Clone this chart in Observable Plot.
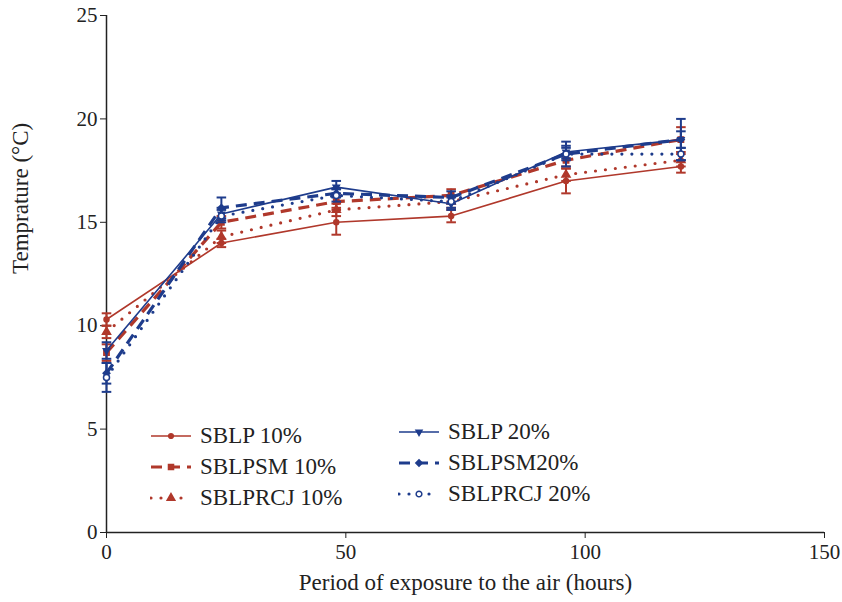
<!DOCTYPE html>
<html><head><meta charset="utf-8">
<script src="https://cdn.jsdelivr.net/npm/d3@7"></script>
<script src="https://cdn.jsdelivr.net/npm/@observablehq/plot@0.6"></script>
<style>
body{margin:0;background:#fff;font-family:"Liberation Serif",serif;}
#wrap{position:relative;width:842px;height:602px;}
#legend{position:absolute;left:0;top:0;width:842px;height:602px;pointer-events:none;font-family:"Liberation Serif",serif;font-size:23px;color:#222;}
.item{position:absolute;display:flex;align-items:center;height:26px;}
.item svg{margin-right:8px;}
</style></head>
<body><div id="wrap"><div id="chart"></div><div id="legend"></div></div>
<script>
const hours = [0, 24, 48, 72, 96, 120];
const seriesNames = ["SBLP 10%", "SBLPSM 10%", "SBLPRCJ 10%", "SBLP 20%", "SBLPSM20%", "SBLPRCJ 20%"];
const sblp10 = [10.3, 14.0, 15.0, 15.3, 17.0, 17.7];
const sblpsm10 = [8.7, 15.0, 16.0, 16.3, 18.0, 19.0];
const sblprcj10 = [9.7, 14.3, 15.6, 16.0, 17.3, 18.0];
const sblp20 = [8.8, 15.4, 16.7, 15.9, 18.4, 19.0];
const sblpsm20 = [7.7, 15.7, 16.4, 16.2, 18.3, 19.0];
const sblprcj20 = [7.5, 15.3, 16.3, 16.0, 18.3, 18.3];
const err_sblp10 = [0.3, 0.2, 0.6, 0.3, 0.6, 0.3];
const err_sblpsm10 = [0.4, 0.3, 0.3, 0.3, 0.3, 0.6];
const err_sblprcj10 = [0.3, 0.3, 0.3, 0.3, 0.3, 0.3];
const err_sblp20 = [0.4, 0.3, 0.3, 0.3, 0.3, 0.4];
const err_sblpsm20 = [0.5, 0.5, 0.2, 0.3, 0.6, 1.0];
const err_sblprcj20 = [0.7, 0.3, 0.3, 0.3, 0.3, 0.3];
const xTicks = [0, 50, 100, 150];
const yTicks = [0, 5, 10, 15, 20, 25];

const RED = "#B0382B", BLUE = "#1E3C8C";
const styles = [
  {color: RED, width: 1.6, dash: null, cap: "butt", symbol: "circle", fill: RED, r: 2.5},
  {color: RED, width: 3.2, dash: "11,7", cap: "butt", symbol: "square", fill: RED, r: 3},
  {color: RED, width: 3.2, dash: "0,10", cap: "round", symbol: "triangle", fill: RED, r: 3},
  {color: BLUE, width: 1.6, dash: null, cap: "butt", symbol: d3.symbolTriangle2, fill: BLUE, r: 3, rotate: 180},
  {color: BLUE, width: 3.2, dash: "11,7", cap: "butt", symbol: "diamond2", fill: BLUE, r: 3},
  {color: BLUE, width: 3.2, dash: "0,10", cap: "round", symbol: "circle", fill: "white", r: 3}
];
const vals = [sblp10, sblpsm10, sblprcj10, sblp20, sblpsm20, sblprcj20];
const errs = [err_sblp10, err_sblpsm10, err_sblprcj10, err_sblp20, err_sblpsm20, err_sblprcj20];

const marks = [];
seriesNames.forEach((name, i) => {
  const data = hours.map((h, j) => ({x: h, y: vals[i][j], e: errs[i][j]}));
  const s = styles[i];
  marks.push(Plot.ruleX(data, {x: "x", y1: d => d.y - d.e, y2: d => d.y + d.e, stroke: s.color, strokeWidth: 2}));
  marks.push(Plot.link(data, {x1: d => d.x - 1, x2: d => d.x + 1, y1: d => d.y + d.e, y2: d => d.y + d.e, stroke: s.color, strokeWidth: 2}));
  marks.push(Plot.link(data, {x1: d => d.x - 1, x2: d => d.x + 1, y1: d => d.y - d.e, y2: d => d.y - d.e, stroke: s.color, strokeWidth: 2}));
  marks.push(Plot.line(data, {x: "x", y: "y", stroke: s.color, strokeWidth: s.width, strokeDasharray: s.dash, strokeLinecap: s.cap}));
  marks.push(Plot.dot(data, {x: "x", y: "y", symbol: () => s.symbol, r: s.r, fill: s.fill, stroke: s.color, strokeWidth: 1.5, rotate: s.rotate || 0}));
});

const chart = Plot.plot({
  width: 842, height: 602,
  marginLeft: 106, marginRight: 18, marginTop: 15, marginBottom: 70,
  style: {fontFamily: "Liberation Serif, serif", fontSize: "20px", color: "#222", background: "white"},
  x: {domain: [0, 150], ticks: xTicks, label: null},
  y: {domain: [0, 25], ticks: yTicks, label: null},
  symbol: {type: "identity"},
  marks: [
    Plot.ruleY([0], {stroke: "#222", strokeWidth: 1.5}),
    Plot.ruleX([0], {stroke: "#222", strokeWidth: 1.5}),
    Plot.axisX({ticks: xTicks, tickSize: 6, tickPadding: 6, stroke: "#222", fontSize: 21}),
    Plot.axisY({ticks: yTicks, tickSize: 6, tickPadding: 3, stroke: "#222", fontSize: 21}),
    Plot.text(["Period of exposure to the air (hours)"], {frameAnchor: "bottom", dy: 57, fontSize: 23, fill: "#222"}),
    Plot.text(["Temprature (°C)"], {frameAnchor: "left", dx: -86, rotate: -90, fontSize: 23, fill: "#222"}),
    ...marks
  ]
});
document.getElementById("chart").appendChild(chart);

// legend
const legendPos = [[150, 423], [150, 454], [150, 485], [398, 419], [398, 450], [398, 481]];
const leg = document.getElementById("legend");
seriesNames.forEach((name, i) => {
  const s = styles[i];
  const div = document.createElement("div");
  div.className = "item";
  div.style.left = legendPos[i][0] + "px";
  div.style.top = legendPos[i][1] + "px";
  const svg = d3.create("svg").attr("width", 42).attr("height", 20);
  svg.append("line").attr("x1", 1).attr("x2", 41).attr("y1", 10).attr("y2", 10)
    .attr("stroke", s.color).attr("stroke-width", s.width)
    .attr("stroke-dasharray", s.dash).attr("stroke-linecap", s.cap);
  const sym = typeof s.symbol === "string" ? ({circle: d3.symbolCircle, square: d3.symbolSquare, triangle: d3.symbolTriangle, diamond2: d3.symbolDiamond2})[s.symbol] : s.symbol;
  svg.append("path").attr("d", d3.symbol(sym, Math.PI * s.r * s.r * 0.9)())
    .attr("transform", `translate(21,10) rotate(${s.rotate || 0})`)
    .attr("fill", s.fill).attr("stroke", s.color).attr("stroke-width", 1.5);
  div.appendChild(svg.node());
  const t = document.createElement("span");
  t.textContent = name;
  div.appendChild(t);
  leg.appendChild(div);
});
</script></body></html>
